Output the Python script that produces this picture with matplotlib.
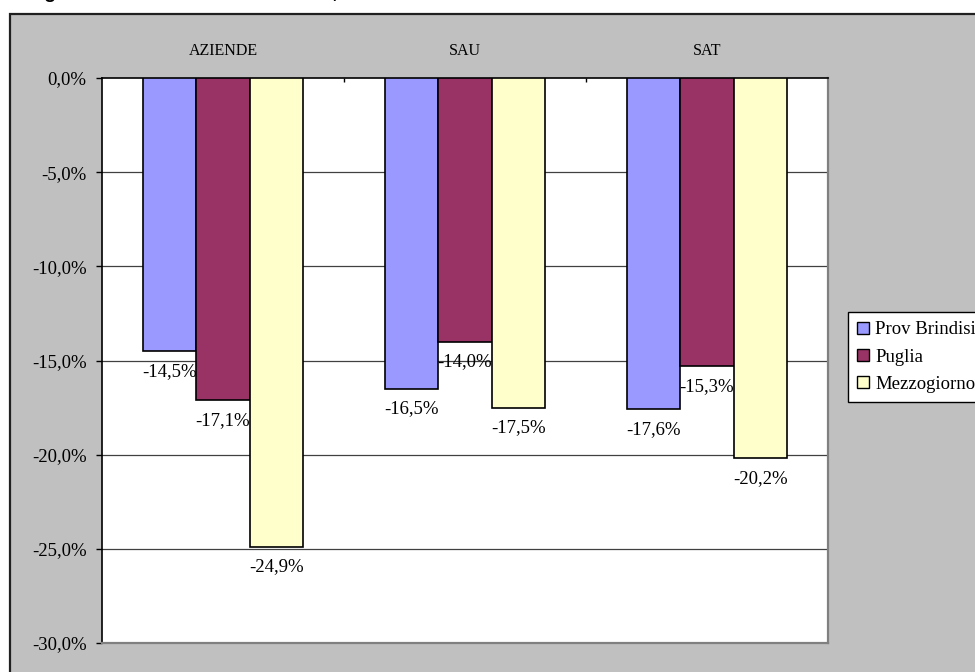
import matplotlib
matplotlib.use("Agg")
import matplotlib.pyplot as plt
from matplotlib.patches import Rectangle, Patch

# data
categories = ["AZIENDE", "SAU", "SAT"]
series = ["Prov Brindisi", "Puglia", "Mezzogiorno"]
brindisi = [-14.5, -16.5, -17.6]
puglia = [-17.1, -14.0, -15.3]
mezzogiorno = [-24.9, -17.5, -20.2]
y_ticks = [0, -5, -10, -15, -20, -25, -30]
colors = ["#9999ff", "#993366", "#ffffcc"]

plt.rcParams["font.family"] = ["Liberation Serif", "DejaVu Serif"]

W, H = 975, 672
fig = plt.figure(figsize=(W / 100, H / 100), dpi=100, facecolor="white")

# caption line, cropped at the top edge as in the source
fig.text(27 / W, 1 + 2 / H,
         "Fig. 2 \u2013 Andamento delle aziende, della SAU e della SAT tra il 1990 e il 2000",
         fontsize=14, fontweight="bold", family="Liberation Sans",
         ha="left", va="baseline")

# grey chart area
fig.patches.append(Rectangle((10 / W, -0.05), 1.1, 1.05 - 14 / H,
                             transform=fig.transFigure, facecolor="#c0c0c0",
                             edgecolor="#202020", lw=1.6, zorder=0))

ax = fig.add_axes([102 / W, 1 - 643 / H, 726 / W, 565 / H])
ax.set_facecolor("white")
ax.set_xlim(0, 3)
ax.set_ylim(-30, 0)

bw = 0.221
centers = [i + 0.5 for i in range(len(categories))]
all_vals = [brindisi, puglia, mezzogiorno]
handles = []
for k, (name, vals, c) in enumerate(zip(series, all_vals, colors)):
    xs = [cx + (k - 1) * bw for cx in centers]
    ax.bar(xs, vals, width=bw, color=c, edgecolor="black", linewidth=1.2, zorder=3)
    for x, v in zip(xs, vals):
        ax.annotate(f"{v:.1f}%".replace(".", ","), (x, v), xytext=(0, -14.5),
                    textcoords="offset points", ha="center", va="center",
                    fontsize=13.5, zorder=4)
    handles.append(Patch(facecolor=c, edgecolor="black", linewidth=1, label=name))

# grid
for t in y_ticks[1:-1]:
    ax.axhline(t, color="#404040", lw=0.9, zorder=1)

ax.set_yticks(y_ticks)
ax.set_yticklabels([f"{t:.1f}%".replace(".", ",").replace("-0,0", "0,0") for t in y_ticks])
ax.tick_params(axis="y", direction="out", length=4, width=1, pad=7, labelsize=13.5)

ax.xaxis.tick_top()
ax.set_xticks(centers)
ax.set_xticklabels(categories)
ax.tick_params(axis="x", which="major", length=0, pad=14, labelsize=11.5)
ax.set_xticks([1, 2], minor=True)
ax.tick_params(axis="x", which="minor", direction="in", length=3, width=1, top=True, bottom=False)

for s in ["left", "top"]:
    ax.spines[s].set_color("black")
    ax.spines[s].set_linewidth(1.2)
for s in ["right", "bottom"]:
    ax.spines[s].set_color("#808080")
    ax.spines[s].set_linewidth(1.6)
ax.set_zorder(2)

leg = fig.legend(handles=handles, loc="upper left",
                 bbox_to_anchor=(848 / W, 1 - 312 / H), fontsize=13.5,
                 frameon=True, fancybox=False, edgecolor="black", framealpha=1,
                 handlelength=0.6, handleheight=0.6, handletextpad=0.35,
                 labelspacing=0.55, borderpad=0.5, borderaxespad=0)
leg.get_frame().set_linewidth(1)

fig.savefig("out.png", dpi=100, facecolor="white")
